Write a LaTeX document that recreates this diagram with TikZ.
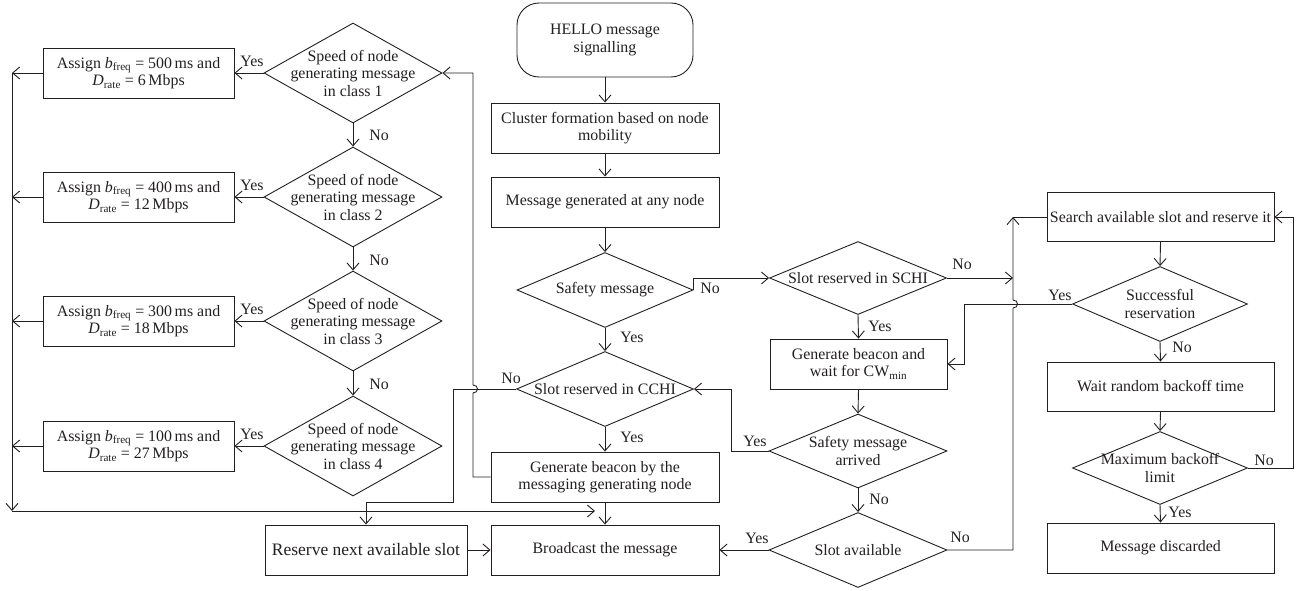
\documentclass[tikz,border=0pt]{standalone}
\usepackage{fontspec}
\setmainfont{Liberation Serif}
\usetikzlibrary{shapes.geometric,arrows.meta}
\definecolor{ln}{RGB}{35,31,32}
\newcommand{\bfq}{\textit{b}\textsubscript{freq}}
\newcommand{\drt}{\textit{D}\textsubscript{rate}}
\begin{document}
\begin{tikzpicture}[x=1pt,y=-1pt,line width=0.9pt,
  base/.style={font=\fontsize{15.9}{17.5}\selectfont,text=ln,align=center},
  box/.style={base,draw=ln,rectangle,inner sep=0pt,minimum height=50pt,minimum width=#1},
  dia/.style 2 args={draw=ln,diamond,inner sep=0pt,minimum width=#1,minimum height=#2},
  txt/.style={base,inner sep=0pt},
  lbl/.style={base,inner sep=0pt},
  arr/.style={draw=ln,-{Straight Barb[length=7pt,width=12pt]}},
  ln/.style={draw=ln}]
\useasboundingbox (0,0) rectangle (1297,591);

% ---------- left column ----------
\node[box=191pt] (a1) at (138.5,73) {Assign \bfq{} = 500\,ms and\\\drt{} = 6\,Mbps};
\node[box=191pt] (a2) at (138.5,197) {Assign \bfq{} = 400\,ms and\\\drt{} = 12\,Mbps};
\node[box=191pt] (a3) at (138.5,321) {Assign \bfq{} = 300\,ms and\\\drt{} = 18\,Mbps};
\node[box=191pt] (a4) at (138.5,446) {Assign \bfq{} = 100\,ms and\\\drt{} = 27\,Mbps};

\node[dia={178pt}{100pt}] (d1) at (353,73) {};
\node[txt] (d1t) at (d1) {Speed of node\\generating message\\in class 1};
\node[dia={178pt}{100pt}] (d2) at (353,197) {};
\node[txt] (d2t) at (d2) {Speed of node\\generating message\\in class 2};
\node[dia={178pt}{100pt}] (d3) at (353,321) {};
\node[txt] (d3t) at (d3) {Speed of node\\generating message\\in class 3};
\node[dia={178pt}{100pt}] (d4) at (353,446) {};
\node[txt] (d4t) at (d4) {Speed of node\\generating message\\in class 4};

\draw[arr] (d1.west) -- (a1.east);
\draw[arr] (d2.west) -- (a2.east);
\draw[arr] (d3.west) -- (a3.east);
\draw[arr] (d4.west) -- (a4.east);
\node[lbl] (y1) at (252,61) {Yes};
\node[lbl] (y2) at (252,185) {Yes};
\node[lbl] (y3) at (252,309) {Yes};
\node[lbl] (y4) at (252,434) {Yes};

\draw[arr] (d1.south) -- (d2.north);
\draw[arr] (d2.south) -- (d3.north);
\draw[arr] (d3.south) -- (d4.north);
\node[lbl] (n1) at (379,135) {No};
\node[lbl] (n2) at (379,260) {No};
\node[lbl] (n3) at (379,384) {No};

\coordinate (bustop) at (12,73);
\coordinate (busbot) at (12,511);
\coordinate (busend) at (595,511);
\draw[arr] (a1.west) -- (a1.west -| busbot);
\draw[arr] (a2.west) -- (a2.west -| busbot);
\draw[arr] (a3.west) -- (a3.west -| busbot);
\draw[arr] (a4.west) -- (a4.west -| busbot);
\draw[arr] (bustop) -- (busbot);
\draw[arr] (busbot) -- (busend);

% ---------- centre column ----------
\node[box=176pt,minimum height=74pt,rounded corners=22pt] (hello) at (605,40) {HELLO message\\signalling};
\node[box=228pt] (clus) at (605,128) {Cluster formation based on node\\mobility};
\node[box=228pt] (gen) at (605,202) {Message generated at any node};
\node[dia={176pt}{75pt}] (safe) at (605,290) {};
\node[txt] (safet) at (safe) {Safety message};
\node[dia={177pt}{75pt}] (cchi) at (605,389) {};
\node[txt] (cchit) at (cchi) {Slot reserved in CCHI};
\node[box=228pt] (gbeac) at (605,477) {Generate beacon by the\\messaging generating node};
\node[box=228pt] (bcast) at (605,550) {Broadcast the message};
\node[box=202pt,font=\fontsize{17.5}{19}\selectfont] (reserve) at (366,550) {Reserve next available slot};

\draw[arr] (hello) -- (clus);
\draw[arr] (clus) -- (gen);
\draw[arr] (gen) -- (safe.north);
\draw[arr] (safe.south) -- (cchi.north);
\draw[arr] (cchi.south) -- (gbeac.north);
\draw[arr] (gbeac.south) -- (bcast.north);
\draw[arr] (reserve.east) -- (bcast.west);
\node[lbl] (ys1) at (632,337) {Yes};
\node[lbl] (ys2) at (632,437) {Yes};
\node[lbl] (nc) at (511,378) {No};

% beacon -> class 1 (with hop over the CCHI "No" line)
\coordinate (hb) at (473,393);
\coordinate (ht) at (473,385);
\draw[arr] (gbeac.west) -- (gbeac.west -| hb) -- (hb) .. controls (479,393) and (479,385) .. (ht) -- (ht |- d1.east) -- (d1.east);

% CCHI "No" -> reserve
\coordinate (c1) at (453,389);
\coordinate (c2) at (453,502);
\draw[arr] (cchi.west) -- (c1) -- (c2) -- (c2 -| reserve.north) -- (reserve.north);

% ---------- middle-right column ----------
\node[dia={177pt}{73pt}] (schi) at (858,278) {};
\node[txt] (schit) at (schi) {Slot reserved in SCHI};
\node[box=177pt] (gbw) at (858.5,364) {Generate beacon and\\wait for CW\textsubscript{min}};
\node[dia={178pt}{74pt}] (sma) at (858,451) {};
\node[txt] (smat) at (sma) {Safety message\\arrived};
\node[dia={178pt}{75pt}] (sav) at (858,550) {};
\node[txt] (savt) at (sav) {Slot available};

\draw[arr] (safe.east) |- (schi.west);
\node[lbl] (ns) at (710,288) {No};
\draw[arr] (schi.south) -- (gbw.north);
\node[lbl] (ysc) at (880,326) {Yes};
\draw[arr] (gbw.south) -- (sma.north);
\coordinate (sy) at (731,451);
\draw[arr] (sma.west) -- (sy) |- (cchi.east);
\node[lbl] (ysm) at (755,441) {Yes};
\draw[arr] (sma.south) -- (sav.north);
\node[lbl] (nsm) at (879,499) {No};
\draw[arr] (sav.west) -- (bcast.east);
\node[lbl] (ysa) at (757,538) {Yes};
\node[lbl] (nsa) at (960,537) {No};

\coordinate (vx) at (1013,278);
\draw[arr] (schi.east) -- (vx);
\node[lbl] (nsc) at (962,264) {No};

% ---------- right column ----------
\node[box=227pt,minimum height=49pt] (search) at (1160.5,217) {Search available slot and reserve it};
\node[dia={175pt}{75pt}] (succ) at (1160,304) {};
\node[txt] (succt) at (succ) {Successful\\reservation};
\node[box=227pt,minimum height=49pt] (wait) at (1160.5,386.5) {Wait random backoff time};
\node[dia={175pt}{73pt}] (maxb) at (1160,468) {};
\node[txt] (maxbt) at (maxb) {Maximum backoff\\limit};
\node[box=227pt] (disc) at (1160.5,548) {Message discarded};

\draw[arr] (search.south) -- (succ.north);
\draw[arr] (succ.south) -- (wait.north);
\node[lbl] (nsu) at (1182,347) {No};
\draw[arr] (wait.south) -- (maxb.north);
\draw[arr] (maxb.south) -- (disc.north);
\node[lbl] (ymb) at (1180,512) {Yes};
\coordinate (mr) at (1293,468);
\draw[arr] (maxb.east) -- (mr) |- (search.east);
\node[lbl] (nmb) at (1264,460) {No};

% successful reservation "Yes" -> generate beacon and wait
\coordinate (sr) at (964,304);
\draw[arr] (succ.west) -- (sr) |- (gbw.east);
\node[lbl] (ysu) at (1060,295) {Yes};

% slot available "No" -> search (hop over the "Yes" line)
\coordinate (vb) at (1013,550);
\coordinate (jb) at (1013,308);
\coordinate (jt) at (1013,300);
\coordinate (vt) at (1013,217);
\draw[arr] (sav.east) -- (vb) -- (jb) .. controls (1019,308) and (1019,300) .. (jt) -- (vt);
\draw[ln] (vt) -- (search.west);
\end{tikzpicture}
\end{document}
